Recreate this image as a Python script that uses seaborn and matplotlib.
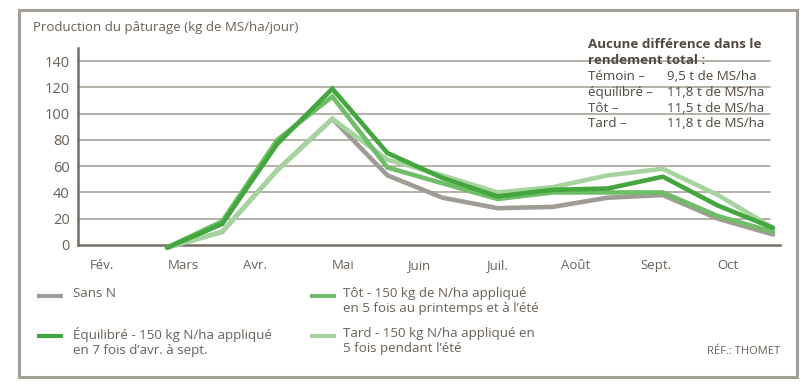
import pandas as pd
import numpy as np
import matplotlib
matplotlib.use("Agg")
import matplotlib.pyplot as plt
from matplotlib.lines import Line2D
from matplotlib.patches import Rectangle
import seaborn as sns

# Donnees (points tous les ~15 jours, de mars a fin oct.)
periode = list(range(12))
sans_n =    [-2, 10, 57, 96, 53, 36, 28, 29, 36, 38, 20, 8]
equilibre = [-2, 16, 77, 119, 70, 51, 37, 42, 43, 52, 30, 13]
tot =       [-2, 18, 80, 113, 59, 47, 35, 40, 40, 40, 22, 10]
tard =      [-2, 10, 57, 96, 65, 53, 40, 44, 53, 58, 38, 13]

mois = ["Fév.", "Mars", "Avr.", "Mai", "Juin", "Juil.", "Août", "Sept.", "Oct"]
mois_pos = [-1.18, 0.29, 1.6, 3.2, 4.57, 5.99, 7.42, 8.87, 10.18]

series = ["Sans N", "Tard", "Tôt", "Équilibré"]
couleurs = {"Sans N": "#a09b95", "Équilibré": "#43a63f",
            "Tôt": "#6fbd68", "Tard": "#a5d49e"}

df = pd.DataFrame({
    "periode": periode * 4,
    "valeur": sans_n + tard + tot + equilibre,
    "serie": np.repeat(series, len(periode)),
})

sns.set_style("white")
plt.rcParams["font.family"] = ["Open Sans", "DejaVu Sans"]

txt = "#6a6058"
fig = plt.figure(figsize=(8.11, 3.87), dpi=100)
ax = fig.add_axes([0.096, 0.367, 0.866, 0.509])

for s in series:
    sub = df[df["serie"] == s]
    sns.lineplot(data=sub, x="periode", y="valeur", color=couleurs[s],
                 lw=3.3, ax=ax, clip_on=False, zorder=3, legend=False,
                 solid_joinstyle="miter")

ax.set_xlim(-1.62, 11.13)
ax.set_ylim(0, 150)
ax.set_yticks(range(0, 141, 20))
ax.set_xticks(mois_pos)
ax.set_xticklabels(mois)
ax.set_xlabel("")
ax.set_ylabel("")
for y in range(20, 141, 20):
    ax.plot([-1.62, 10.95], [y, y], color="#aaa29a", lw=1.2, zorder=1,
            clip_on=False)
ax.grid(False)
for side in ["top", "right"]:
    ax.spines[side].set_visible(False)
for side in ["left", "bottom"]:
    ax.spines[side].set_color("#766d66")
    ax.spines[side].set_linewidth(1.8)
ax.tick_params(axis="y", length=4, width=1.2, color="#766d66",
               labelsize=10.5, labelcolor=txt, pad=2)
ax.tick_params(axis="x", length=0, labelsize=9.5, labelcolor=txt, pad=10)
ax.set_facecolor("none")

# cadre
fig.patches.append(Rectangle((19 / 811, 1 - 377 / 387), 778 / 811, 367 / 387,
                             transform=fig.transFigure, fill=False,
                             edgecolor="#a39e98", lw=2.2))

fig.text(33 / 811, 1 - 28 / 387, "Production du pâturage (kg de MS/ha/jour)",
         fontsize=9.5, color=txt, va="center")

# encadre rendement total
fig.text(588 / 811, 1 - 45 / 387, "Aucune différence dans le",
         fontsize=9.6, fontweight="bold", color="#4f4740", va="center")
fig.text(588 / 811, 1 - 61 / 387, "rendement total :",
         fontsize=9.6, fontweight="bold", color="#4f4740", va="center")
lignes = [("Témoin –", "9,5 t de MS/ha"), ("équilibré –", "11,8 t de MS/ha"),
          ("Tôt –", "11,5 t de MS/ha"), ("Tard –", "11,8 t de MS/ha")]
for i, (a, b) in enumerate(lignes):
    y = 1 - (77 + i * 15.5) / 387
    fig.text(588 / 811, y, a, fontsize=9.6, color="#4f4740", va="center")
    fig.text(667 / 811, y, b, fontsize=9.6, color="#4f4740", va="center")

# legende
leg = [("Sans N", 37, 73, 296, "Sans N"),
       ("Tôt", 310, 343, 296,
        "Tôt - 150 kg de N/ha appliqué\nen 5 fois au printemps et à l’été"),
       ("Équilibré", 37, 73, 336,
        "Équilibré - 150 kg N/ha appliqué\nen 7 fois d’avr. à sept."),
       ("Tard", 310, 343, 336,
        "Tard - 150 kg N/ha appliqué en\n5 fois pendant l’été")]
for s, x0, xt, y, lab in leg:
    yy = 1 - y / 387
    fig.lines.append(Line2D([x0 / 811, (x0 + 26) / 811], [yy, yy],
                            transform=fig.transFigure, color=couleurs[s],
                            lw=3.0, solid_capstyle="butt"))
    fig.text(xt / 811, yy + 0.023, lab, fontsize=9.6, color=txt, va="top",
             linespacing=1.22)

fig.text(780 / 811, 1 - 351 / 387, "RÉF.: THOMET", fontsize=8, color=txt,
         ha="right", va="center")

fig.savefig("out.png", dpi=100)
